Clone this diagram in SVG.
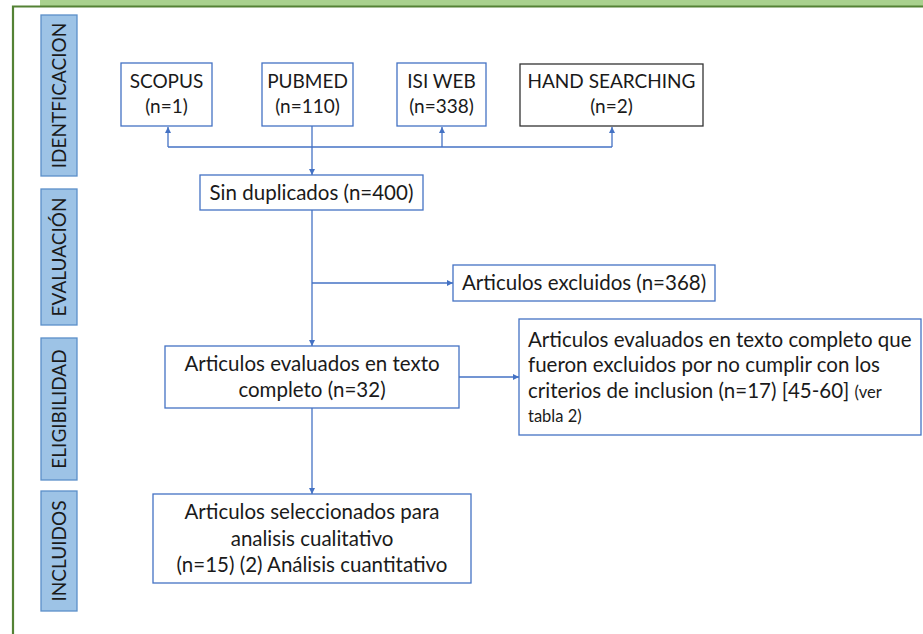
<svg xmlns="http://www.w3.org/2000/svg" width="923" height="634" viewBox="0 0 923 634">
<defs>
<marker id="ah" viewBox="0 0 10 10" refX="10" refY="5" markerWidth="6" markerHeight="6" markerUnits="userSpaceOnUse" orient="auto">
<path d="M0,0 L10,5 L0,10 z" fill="#4472c4"/>
</marker>
<style>
.box{fill:#ffffff;stroke:#4472c4;stroke-width:1.3}
.dark{fill:#ffffff;stroke:#333333;stroke-width:1.3}
.lab{fill:#9dc3e6;stroke:#5b8fc9;stroke-width:1.3}
.t{font-family:Lato,"Liberation Sans",sans-serif;font-size:20.5px;fill:#1a1a1a}
.top{font-size:19px}
.c{text-anchor:middle}
.s{font-size:16.5px}
.lt{font-family:Lato,"Liberation Sans",sans-serif;font-size:19px;fill:#1a1a1a;text-anchor:middle}
.ln{fill:none;stroke:#4472c4;stroke-width:1.3}
</style>
</defs>
<rect x="0" y="0" width="923" height="634" fill="#ffffff"/>
<rect x="40" y="0" width="883" height="6" fill="#a9d18e"/>
<path d="M13,640 L13,6.5 L930,6.5" fill="none" stroke="#548235" stroke-width="2.2"/>

<g id="lab-identificacion">
<rect class="lab" x="41" y="15" width="36" height="161"/>
<text class="lt" transform="translate(65.5,95.5) rotate(-90)">IDENTFICACION</text>
</g>
<g id="lab-evaluacion">
<rect class="lab" x="41" y="189" width="36" height="136"/>
<text class="lt" transform="translate(65.5,257) rotate(-90)">EVALUACIÓN</text>
</g>
<g id="lab-eligibilidad">
<rect class="lab" x="41" y="338" width="36" height="142"/>
<text class="lt" transform="translate(65.5,409) rotate(-90)">ELIGIBILIDAD</text>
</g>
<g id="lab-incluidos">
<rect class="lab" x="41" y="491" width="36" height="120"/>
<text class="lt" transform="translate(65.5,551) rotate(-90)">INCLUIDOS</text>
</g>

<g id="connectors">
<path class="ln" d="M168,147 L612,147"/>
<path class="ln" d="M168,147 L168,127" marker-end="url(#ah)"/>
<path class="ln" d="M442,147 L442,127" marker-end="url(#ah)"/>
<path class="ln" d="M612,147 L612,127" marker-end="url(#ah)"/>
<path class="ln" d="M312,126 L312,175" marker-end="url(#ah)"/>
<path class="ln" d="M312,210 L312,346" marker-end="url(#ah)"/>
<path class="ln" d="M312,283 L453,283" marker-end="url(#ah)"/>
<path class="ln" d="M459,377 L519,377" marker-end="url(#ah)"/>
<path class="ln" d="M312,408 L312,494" marker-end="url(#ah)"/>
</g>

<g id="scopus">
<rect class="box" x="121" y="63" width="91" height="63"/>
<text class="t top c" x="166.5" y="88">SCOPUS</text>
<text class="t top c" x="166.5" y="113">(n=1)</text>
</g>
<g id="pubmed">
<rect class="box" x="262" y="63" width="91" height="63"/>
<text class="t top c" x="307.5" y="88">PUBMED</text>
<text class="t top c" x="307.5" y="113">(n=110)</text>
</g>
<g id="isiweb">
<rect class="box" x="397" y="63" width="89" height="63"/>
<text class="t top c" x="441.5" y="88">ISI WEB</text>
<text class="t top c" x="441.5" y="113">(n=338)</text>
</g>
<g id="hand">
<rect class="dark" x="520" y="64" width="183" height="62"/>
<text class="t top c" x="611.5" y="88">HAND SEARCHING</text>
<text class="t top c" x="611.5" y="113">(n=2)</text>
</g>
<g id="sinduplicados">
<rect class="box" x="200" y="175" width="223" height="35"/>
<text class="t c" x="311.5" y="199.5">Sin duplicados (n=400)</text>
</g>
<g id="excluidos">
<rect class="box" x="453" y="265" width="262" height="36"/>
<text class="t" x="462" y="290">Articulos excluidos (n=368)</text>
</g>
<g id="evaluados">
<rect class="box" x="165" y="346" width="294" height="62"/>
<text class="t c" x="312" y="371">Articulos evaluados en texto</text>
<text class="t c" x="312" y="397">completo (n=32)</text>
</g>
<g id="excluidos-texto">
<rect class="box" x="519" y="319" width="402" height="116"/>
<text class="t" x="528" y="347">Articulos evaluados en texto completo que</text>
<text class="t" x="528" y="372">fueron excluidos por no cumplir con los</text>
<text class="t" x="528" y="398">criterios de inclusion (n=17) [45-60] <tspan class="s">(ver</tspan></text>
<text class="t s" x="528" y="422">tabla 2)</text>
</g>
<g id="seleccionados">
<rect class="box" x="153" y="494" width="318" height="89"/>
<text class="t c" x="312" y="519">Articulos seleccionados para</text>
<text class="t c" x="312" y="546">analisis cualitativo</text>
<text class="t c" x="312" y="572">(n=15) (2) Análisis cuantitativo</text>
</g>
</svg>
